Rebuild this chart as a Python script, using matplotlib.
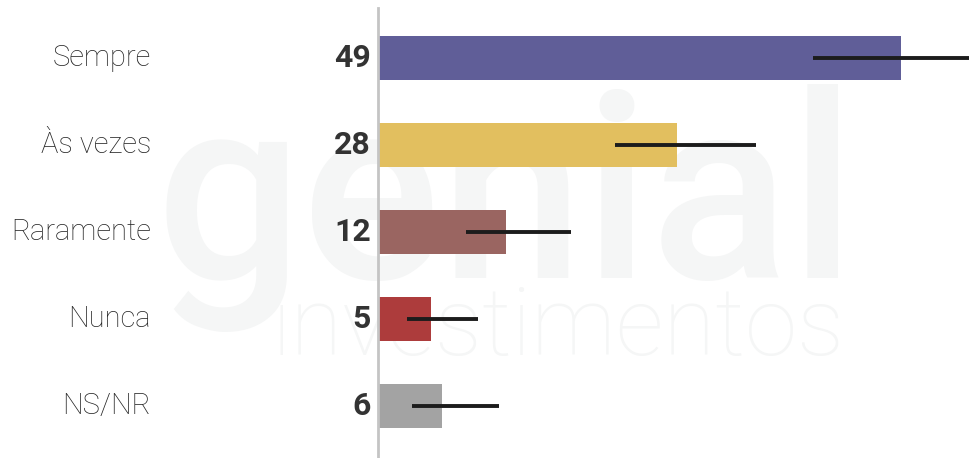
import matplotlib.pyplot as plt
import matplotlib.transforms as mtransforms

# data
categories = ["Sempre", "Às vezes", "Raramente", "Nunca", "NS/NR"]
values = [49, 28, 12, 5, 6]
err_low = [40.7, 22.2, 8.2, 2.7, 3.2]
err_high = [55.3, 35.4, 18.1, 9.4, 11.3]
bar_colors = ["#605e98", "#e2bf5f", "#9a6561", "#ad3c3c", "#a3a3a3"]

W, H = 972, 458
fig = plt.figure(figsize=(W / 100, H / 100), dpi=100)

# faint watermark, drawn in a background axes so the chart sits on top
bg = fig.add_axes([0, 0, 1, 1], zorder=0)
bg.axis("off")
bg.text(156 / W, 1 - 278 / H, "genial", fontsize=186, family="Roboto",
        fontweight="medium", color="#f5f6f6", ha="left", va="baseline")
bg.text(272 / W, 1 - 355 / H, "investimentos", fontsize=68, family="Roboto",
        fontweight="light", color="#f5f6f6", ha="left", va="baseline")

ax = fig.add_axes([378 / W, 0, 1 - 378 / W, 450 / H], zorder=1)
ax.patch.set_alpha(0)

ypos = list(range(len(categories)))
ax.barh(ypos, values, height=0.5, color=bar_colors, zorder=2)
ax.hlines(ypos, err_low, err_high, color="#1c1c1c", lw=2.8, zorder=3)

ax.set_xlim(0, 55.6)
ax.set_ylim(4.6, -0.575)

for s in ["top", "right", "bottom"]:
    ax.spines[s].set_visible(False)
ax.spines["left"].set_color("#c4c4c4")
ax.spines["left"].set_linewidth(2)
ax.set_xticks([])
ax.set_yticks([])

trans = mtransforms.blended_transform_factory(fig.transFigure, ax.transData)
for y, cat, v in zip(ypos, categories, values):
    ax.text(151 / W, y, cat, transform=trans, ha="right", va="center",
            fontsize=21, family="Roboto", fontweight="light", color="#262626")
    ax.text(371 / W, y, str(v), transform=trans, ha="right", va="center",
            fontsize=23, family="Roboto", fontweight="bold", color="#333333")

fig.savefig("out.png", dpi=100)
